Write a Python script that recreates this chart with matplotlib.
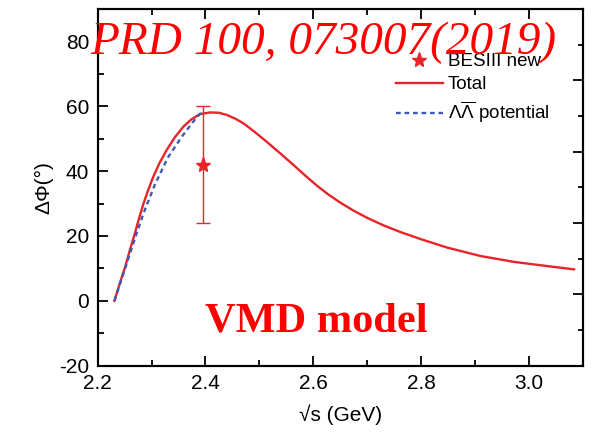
import matplotlib
matplotlib.use("Agg")
import matplotlib.pyplot as plt
from matplotlib.ticker import MultipleLocator, NullFormatter, FormatStrFormatter
from matplotlib.lines import Line2D

plt.rcParams['font.family'] = ['Liberation Sans', 'DejaVu Sans']
plt.rcParams['mathtext.fontset'] = 'custom'
plt.rcParams['mathtext.rm'] = 'Liberation Sans'
plt.rcParams['mathtext.it'] = 'Liberation Sans:italic'
plt.rcParams['axes.unicode_minus'] = False

# Total phase difference (VMD model)
total_x = [2.231, 2.241, 2.251, 2.260, 2.269, 2.277, 2.285, 2.294, 2.303,
           2.315, 2.328, 2.343, 2.359, 2.374, 2.390, 2.409, 2.425, 2.440,
           2.455, 2.471, 2.492, 2.514, 2.540, 2.564, 2.586, 2.607, 2.628,
           2.650, 2.675, 2.700, 2.730, 2.762, 2.800, 2.849, 2.911, 2.973,
           3.035, 3.084]
total_y = [0.0, 5.4, 10.5, 15.8, 20.8, 25.6, 30.0, 34.3, 38.2,
           42.6, 46.5, 50.4, 53.7, 56.0, 57.6, 58.1, 58.0, 57.3,
           56.2, 54.7, 52.0, 49.0, 45.3, 41.8, 38.5, 35.5, 32.8,
           30.3, 27.8, 25.6, 23.3, 21.2, 19.0, 16.4, 13.8, 12.0,
           10.7, 9.7]

# Lambda-antiLambda potential contribution
pot_x = [2.231, 2.248, 2.266, 2.285, 2.307, 2.331, 2.356, 2.384, 2.392]
pot_y = [0.0, 8.5, 17.7, 27.0, 36.2, 44.4, 50.6, 56.7, 58.0]

# BESIII measurement
bes_x = [2.396]
bes_y = [42.0]
bes_err = [18.0]

RED = '#e8232a'
BLUE = '#3b5bb5'

fig = plt.figure(figsize=(5.95, 4.32), dpi=100)
ax = fig.add_axes([0.1642, 0.1535, 0.8151, 0.8257])

ax.plot(total_x, total_y, color=RED, lw=1.7, zorder=3,
        solid_joinstyle='round')
ax.plot(pot_x, pot_y, color=BLUE, lw=1.7, ls=(0, (2.0, 1.6)), zorder=3)
ax.errorbar(bes_x, bes_y, yerr=bes_err, fmt='*', color=RED, ms=11,
            elinewidth=1.0, capsize=5, capthick=1.0, zorder=4)

ax.set_xlim(2.2, 3.1)
ax.set_ylim(-20, 90)
ax.xaxis.set_major_locator(MultipleLocator(0.2))
ax.xaxis.set_minor_locator(MultipleLocator(0.1))
ax.yaxis.set_major_locator(MultipleLocator(20))
ax.yaxis.set_minor_locator(MultipleLocator(10))
ax.xaxis.set_major_formatter(FormatStrFormatter('%.1f'))
ax.tick_params(which='both', direction='in', top=True, right=False,
               labelsize=15, width=1.3)
ax.tick_params(which='major', length=7, pad=6)
ax.tick_params(which='minor', length=4)
for s in ax.spines.values():
    s.set_linewidth(1.5)

# independent tick scale on the right spine
axr = ax.twinx()
axr.set_ylim(0, 1)
axr.yaxis.set_major_locator(MultipleLocator(0.2))
axr.yaxis.set_minor_locator(MultipleLocator(0.1))
axr.yaxis.set_major_formatter(NullFormatter())
axr.tick_params(which='both', direction='in', width=1.3)
axr.tick_params(which='major', length=7)
axr.tick_params(which='minor', length=3.5)
for s in axr.spines.values():
    s.set_linewidth(1.5)

ax.set_xlabel('√s (GeV)', fontsize=15, labelpad=8)
ax.set_ylabel('ΔΦ(°)', fontsize=15, labelpad=4)

handles = [
    Line2D([], [], ls='none', marker='*', color=RED, ms=11),
    Line2D([], [], color=RED, lw=1.7),
    Line2D([], [], color=BLUE, lw=1.7, ls=(0, (2.0, 1.6))),
]
labels = ['BESIII new', 'Total',
          r'$\mathrm{\Lambda}\overline{\mathrm{\Lambda}}$ potential']
leg = axr.legend(handles, labels,
                 loc='upper left', bbox_to_anchor=(396 / 595, 1 - 53 / 432),
                 bbox_transform=fig.transFigure, frameon=False, fontsize=13.5,
                 handlelength=2.5, handletextpad=0.25, labelspacing=0.33,
                 borderpad=0, borderaxespad=0)

fig.text(90 / 595, 1 - 54 / 432, 'PRD 100, 073007(2019)', color='red',
         fontsize=34, family='Liberation Serif', style='italic', va='baseline')
fig.text(205 / 595, 1 - 331.7 / 432, 'VMD model', color='red',
         fontsize=30.5, family='Liberation Serif', weight='bold', va='baseline')

fig.savefig('out.png', dpi=100)
